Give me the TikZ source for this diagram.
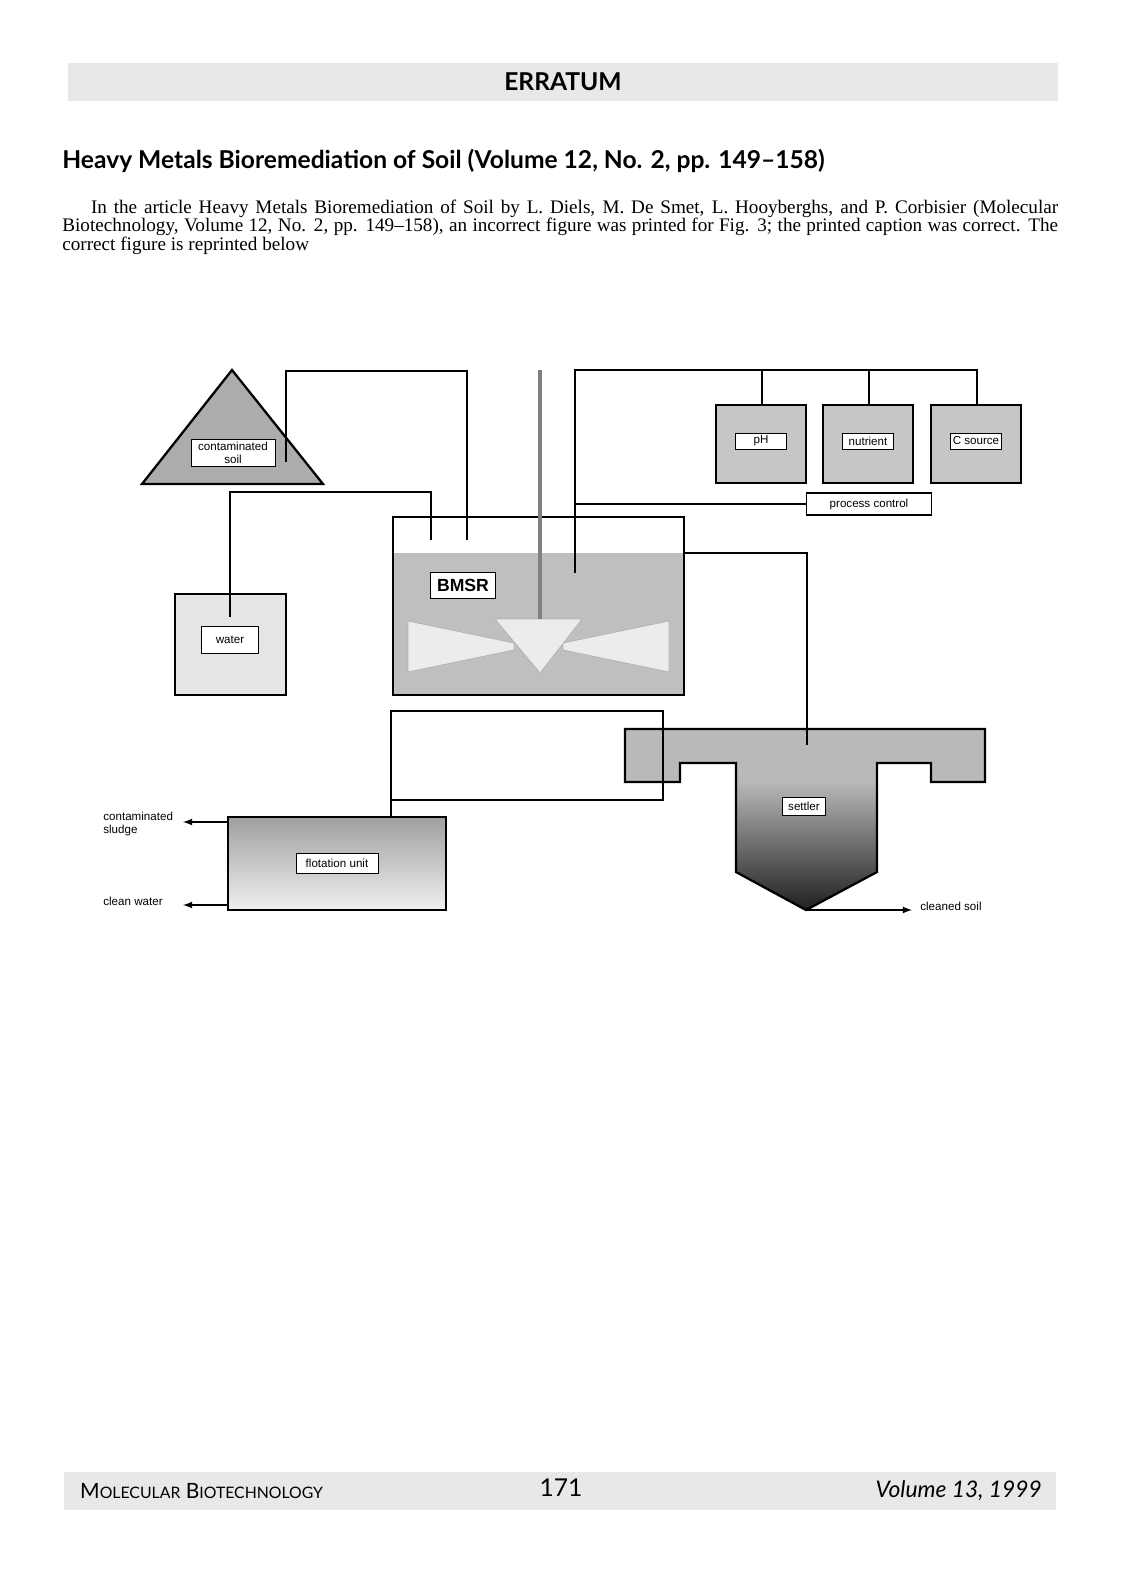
\documentclass[tikz,border=0pt]{standalone}
\usepackage{fontspec}
\setmainfont{Liberation Serif}
\setsansfont{Liberation Sans}
\newfontfamily\headfont{Lato}
\begin{document}
\begin{tikzpicture}[x=0.02cm,y=-0.02cm,
  lbl/.style={draw,fill=white,inner sep=1pt,font=\sffamily\fontsize{6.6}{7.6}\selectfont,align=center},
  pipe/.style={line width=0.8pt},
  vessel/.style={draw,line width=1.3pt},
  outarr/.style={pipe,-latex},
  side/.style={font=\sffamily\fontsize{6.6}{7.6}\selectfont,align=left}]
\useasboundingbox (0,0) rectangle (1125,1575);
\fill[gray!18] (68,63) rectangle (1058,101);
\node[font=\headfont\bfseries\fontsize{14}{16}\selectfont] (hdr) at (563,82) {ERRATUM};
\node[anchor=west,font=\headfont\bfseries\fontsize{14}{16}\selectfont,inner sep=0] (title) at (62,161) {Heavy Metals Bioremediation of Soil (Volume 12, No. 2, pp. 149–158)};
\node[anchor=north west,inner sep=0,text width=19.92cm,align=justify,font=\fontsize{10.9}{10.3}\selectfont] (body) at (62,200) {\hyphenpenalty=10000\hspace*{1.5em}In the article Heavy Metals Bioremediation of Soil by L. Diels, M. De Smet, L. Hooyberghs, and P. Corbisier (Molecular Biotechnology, Volume 12, No. 2, pp. 149–158), an incorrect figure was printed for Fig. 3; the printed caption was correct. The correct figure is reprinted below};
\fill[gray!18] (64,1472) rectangle (1056,1510);
\node[anchor=west,font=\headfont\fontsize{12}{13}\selectfont] (ft1) at (74,1491) {M{\fontsize{9}{10}\selectfont OLECULAR} B{\fontsize{9}{10}\selectfont IOTECHNOLOGY}};
\node[font=\headfont\fontsize{14}{16}\selectfont] (ft2) at (561,1488) {171};
\node[anchor=east,font=\headfont\itshape\fontsize{13}{15}\selectfont] (ft3) at (1048,1491) {Volume 13, 1999};
% triangle
\filldraw[vessel,fill=gray!65] (232,370) -- (323,484) -- (142,484) -- cycle;
\node[lbl,minimum width=1.68cm,minimum height=0.54cm] (soil) at (233,453) {contaminated\\soil};
% water
\filldraw[vessel,fill=gray!20] (175,594) rectangle (286,695);
\node[lbl,minimum width=1.14cm,minimum height=0.54cm] (water) at (230,640) {water};
% tank
\fill[gray!50] (393,553) rectangle (684,695);
\draw[vessel] (393,517) rectangle (684,695);
\node[lbl,font=\sffamily\bfseries\fontsize{10}{12}\selectfont,minimum width=1.3cm,minimum height=0.52cm] (bmsr) at (463,585) {BMSR};
\fill[gray!15,draw=gray!60] (408,621) -- (514,643) -- (514,650) -- (408,672) -- cycle;
\fill[gray!15,draw=gray!60] (669,621) -- (563,643) -- (563,650) -- (669,672) -- cycle;
\fill[gray!15,draw=gray!60] (495,619) -- (582,619) -- (540,673) -- cycle;
\draw[gray,line width=1.8pt] (540,370) -- (540,619);
% control boxes
\foreach \n/\x/\t in {ph/761/pH,nut/868/nutrient,cs/976/C source}{
  \filldraw[vessel,fill=gray!45] (\x-45,405) rectangle (\x+45,483);
  \node[lbl,minimum width=1.02cm,minimum height=0.32cm] (\n) at (\x,441) {\t};
}
\node[lbl,minimum width=2.5cm,minimum height=0.44cm,line width=0.8pt] (pc) at (869,504) {process control};
\draw[pipe] (575,573) -- (575,370) -- (977,370) -- (977,405);
\draw[pipe] (762,370) -- (762,405);
\draw[pipe] (869,370) -- (869,405);
\draw[pipe] (575,504) -- (pc.west);
\draw[pipe] (286,462) -- (286,371) -- (467,371) -- (467,540);
\draw[pipe] (230,617) -- (230,492) -- (431,492) -- (431,540);
% settler
\begin{scope}
\clip (625,729) -- (985,729) -- (985,782) -- (931,782) -- (931,763) -- (877,763) -- (877,872) -- (806,910) -- (736,872) -- (736,763) -- (680,763) -- (680,782) -- (625,782) -- cycle;
\fill[gray!55] (625,729) rectangle (985,782);
\shade[top color=gray!55,bottom color=black!88] (736,781) rectangle (877,911);
\end{scope}
\draw[vessel] (625,729) -- (985,729) -- (985,782) -- (931,782) -- (931,763) -- (877,763) -- (877,872) -- (806,910) -- (736,872) -- (736,763) -- (680,763) -- (680,782) -- (625,782) -- cycle;
\node[lbl,minimum width=0.86cm,minimum height=0.36cm] (settler) at (804,806) {settler};
\draw[pipe] (684,553) -- (807,553) -- (807,745);
% flotation
\shade[top color=gray!75,bottom color=gray!12] (228,817) rectangle (446,910);
\draw[vessel] (228,817) rectangle (446,910);
\node[lbl,minimum width=1.64cm,minimum height=0.4cm] (flot) at (337,863) {flotation unit};
\draw[pipe] (391,817) -- (391,711) -- (663,711) -- (663,800) -- (391,800);
\coordinate (cs1) at (183,822);
\coordinate (cw1) at (183,905);
\coordinate (cl1) at (912,910);
\draw[outarr] (228,822) -- (cs1);
\draw[outarr] (228,905) -- (cw1);
\draw[outarr] (806,910) -- (cl1);
\node[side,anchor=west,inner sep=0] (sl) at (103,824) {contaminated\\sludge};
\node[side,anchor=west,inner sep=0] (cw) at (103,901) {clean water};
\node[side,anchor=west,inner sep=0] (cl) at (920,906) {cleaned soil};
\end{tikzpicture}
\end{document}
